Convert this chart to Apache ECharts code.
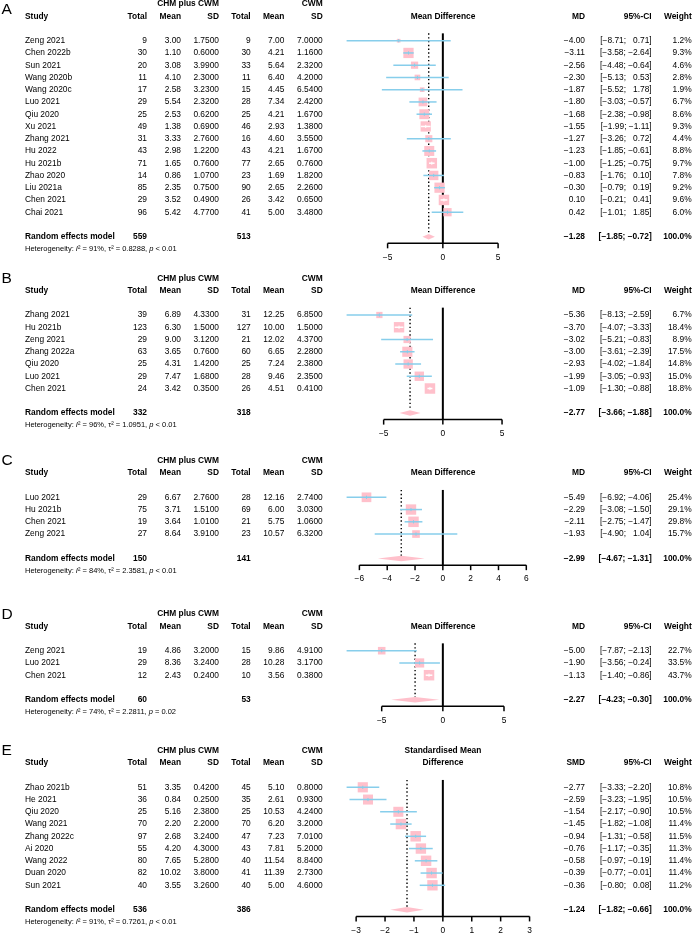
<!DOCTYPE html>
<html><head><meta charset="utf-8">
<script src="https://cdn.jsdelivr.net/npm/echarts@6/dist/echarts.min.js"></script>
<style>html,body{margin:0;padding:0;background:#fff}#c{width:693px;height:935px}</style>
</head><body><div id="c"></div>
<script>
// ---------- Panel A ----------
const A_study = ['Zeng 2021','Chen 2022b','Sun 2021','Wang 2020b','Wang 2020c','Luo 2021','Qiu 2020','Xu 2021','Zhang 2021','Hu 2022','Hu 2021b','Zhao 2020','Liu 2021a','Chen 2021','Chai 2021'];
const A_n1 = [9,30,20,11,17,29,25,49,31,43,71,14,85,29,96];
const A_m1 = [3.00,1.10,3.08,4.10,2.58,5.54,2.53,1.38,3.33,2.98,1.65,0.86,2.35,3.52,5.42];
const A_sd1 = [1.75,0.60,3.99,2.30,3.23,2.32,0.62,0.69,2.76,1.22,0.76,1.07,0.75,0.49,4.77];
const A_n2 = [9,30,33,11,15,28,25,46,16,43,77,23,90,26,41];
const A_m2 = [7.00,4.21,5.64,6.40,4.45,7.34,4.21,2.93,4.60,4.21,2.65,1.69,2.65,3.42,5.00];
const A_sd2 = [7.00,1.16,2.32,4.20,6.54,2.42,1.67,1.38,3.55,1.67,0.76,1.82,2.26,0.65,3.48];
const A_est = [-4.00,-3.11,-2.56,-2.30,-1.87,-1.80,-1.68,-1.55,-1.27,-1.23,-1.00,-0.83,-0.30,0.10,0.42];
const A_lo = [-8.71,-3.58,-4.48,-5.13,-5.52,-3.03,-2.38,-1.99,-3.26,-1.85,-1.25,-1.76,-0.79,-0.21,-1.01];
const A_hi = [0.71,-2.64,-0.64,0.53,1.78,-0.57,-0.98,-1.11,0.72,-0.61,-0.75,0.10,0.19,0.41,1.85];
const A_w = [1.2,9.3,4.6,2.8,1.9,6.7,8.6,9.3,4.4,8.8,9.7,7.8,9.2,9.6,6.0];
const A_total = [559, 513];
const A_sum = [-1.28, -1.85, -0.72];
const A_het = ['91%', '0.8288', '< 0.01'];
const A_ticks = [-5, 0, 5];

// ---------- Panel B ----------
const B_study = ['Zhang 2021','Hu 2021b','Zeng 2021','Zhang 2022a','Qiu 2020','Luo 2021','Chen 2021'];
const B_n1 = [39,123,29,63,25,29,24];
const B_m1 = [6.89,6.30,9.00,3.65,4.31,7.47,3.42];
const B_sd1 = [4.33,1.50,3.12,0.76,1.42,1.68,0.35];
const B_n2 = [31,127,21,60,25,28,26];
const B_m2 = [12.25,10.00,12.02,6.65,7.24,9.46,4.51];
const B_sd2 = [6.85,1.50,4.37,2.28,2.38,2.35,0.41];
const B_est = [-5.36,-3.70,-3.02,-3.00,-2.93,-1.99,-1.09];
const B_lo = [-8.13,-4.07,-5.21,-3.61,-4.02,-3.05,-1.30];
const B_hi = [-2.59,-3.33,-0.83,-2.39,-1.84,-0.93,-0.88];
const B_w = [6.7,18.4,8.9,17.5,14.8,15.0,18.8];
const B_total = [332, 318];
const B_sum = [-2.77, -3.66, -1.88];
const B_het = ['96%', '1.0951', '< 0.01'];
const B_ticks = [-5, 0, 5];

// ---------- Panel C ----------
const C_study = ['Luo 2021','Hu 2021b','Chen 2021','Zeng 2021'];
const C_n1 = [29,75,19,27];
const C_m1 = [6.67,3.71,3.64,8.64];
const C_sd1 = [2.76,1.51,1.01,3.91];
const C_n2 = [28,69,21,23];
const C_m2 = [12.16,6.00,5.75,10.57];
const C_sd2 = [2.74,3.03,1.06,6.32];
const C_est = [-5.49,-2.29,-2.11,-1.93];
const C_lo = [-6.92,-3.08,-2.75,-4.90];
const C_hi = [-4.06,-1.50,-1.47,1.04];
const C_w = [25.4,29.1,29.8,15.7];
const C_total = [150, 141];
const C_sum = [-2.99, -4.67, -1.31];
const C_het = ['84%', '2.3581', '< 0.01'];
const C_ticks = [-6, -4, -2, 0, 2, 4, 6];

// ---------- Panel D ----------
const D_study = ['Zeng 2021','Luo 2021','Chen 2021'];
const D_n1 = [19,29,12];
const D_m1 = [4.86,8.36,2.43];
const D_sd1 = [3.20,3.24,0.24];
const D_n2 = [15,28,10];
const D_m2 = [9.86,10.28,3.56];
const D_sd2 = [4.91,3.17,0.38];
const D_est = [-5.00,-1.90,-1.13];
const D_lo = [-7.87,-3.56,-1.40];
const D_hi = [-2.13,-0.24,-0.86];
const D_w = [22.7,33.5,43.7];
const D_total = [60, 53];
const D_sum = [-2.27, -4.23, -0.30];
const D_het = ['74%', '2.2811', '= 0.02'];
const D_ticks = [-5, 0, 5];

// ---------- Panel E ----------
const E_study = ['Zhao 2021b','He 2021','Qiu 2020','Wang 2021','Zhang 2022c','Ai 2020','Wang 2022','Duan 2020','Sun 2021'];
const E_n1 = [51,36,25,70,97,55,80,82,40];
const E_m1 = [3.35,0.84,5.16,2.20,2.68,4.20,7.65,10.02,3.55];
const E_sd1 = [0.42,0.25,2.38,2.20,3.24,4.30,5.28,3.80,3.26];
const E_n2 = [45,35,25,70,47,43,40,41,40];
const E_m2 = [5.10,2.61,10.53,6.20,7.23,7.81,11.54,11.39,5.00];
const E_sd2 = [0.80,0.93,4.24,3.20,7.01,5.20,8.84,2.73,4.60];
const E_est = [-2.77,-2.59,-1.54,-1.45,-0.94,-0.76,-0.58,-0.39,-0.36];
const E_lo = [-3.33,-3.23,-2.17,-1.82,-1.31,-1.17,-0.97,-0.77,-0.80];
const E_hi = [-2.20,-1.95,-0.90,-1.08,-0.58,-0.35,-0.19,-0.01,0.08];
const E_w = [10.8,10.5,10.5,11.4,11.5,11.3,11.4,11.4,11.2];
const E_total = [536, 386];
const E_sum = [-1.24, -1.82, -0.66];
const E_het = ['91%', '0.7261', '< 0.01'];
const E_ticks = [-3, -2, -1, 0, 1, 2, 3];

// ---------- styling / layout ----------
const FONT = '"Liberation Sans", Arial, Helvetica, sans-serif';
const FS = 8.4, FS_HET = 7.5, FS_LETTER = 15.5;
const SP = 12.25;
const X0 = 346.6, XW = 192.5;
const BOX_COLOR = '#FFC0CB', CI_COLOR = '#87CEEB';
const BOX_MAX = 10.5;
const COL = {study:25, n1:147, m1:181, sd1:219, n2:250.7, m2:284.3, sd2:322.7, mid:443, md:585, ci:651.7, w:691.7};

const panels = [
  {letter:'A', row0:40.7, letterY:9.5, title:['', 'Mean Difference'], eff:'MD', study:A_study, n1:A_n1, m1:A_m1, sd1:A_sd1, n2:A_n2, m2:A_m2, sd2:A_sd2, est:A_est, lo:A_lo, hi:A_hi, w:A_w, total:A_total, sum:A_sum, het:A_het, ticks:A_ticks},
  {letter:'B', row0:315, title:['', 'Mean Difference'], eff:'MD', study:B_study, n1:B_n1, m1:B_m1, sd1:B_sd1, n2:B_n2, m2:B_m2, sd2:B_sd2, est:B_est, lo:B_lo, hi:B_hi, w:B_w, total:B_total, sum:B_sum, het:B_het, ticks:B_ticks},
  {letter:'C', row0:497.3, title:['', 'Mean Difference'], eff:'MD', study:C_study, n1:C_n1, m1:C_m1, sd1:C_sd1, n2:C_n2, m2:C_m2, sd2:C_sd2, est:C_est, lo:C_lo, hi:C_hi, w:C_w, total:C_total, sum:C_sum, het:C_het, ticks:C_ticks},
  {letter:'D', row0:650.7, title:['', 'Mean Difference'], eff:'MD', study:D_study, n1:D_n1, m1:D_m1, sd1:D_sd1, n2:D_n2, m2:D_m2, sd2:D_sd2, est:D_est, lo:D_lo, hi:D_hi, w:D_w, total:D_total, sum:D_sum, het:D_het, ticks:D_ticks},
  {letter:'E', row0:787.3, title:['Standardised Mean', 'Difference'], eff:'SMD', study:E_study, n1:E_n1, m1:E_m1, sd1:E_sd1, n2:E_n2, m2:E_m2, sd2:E_sd2, est:E_est, lo:E_lo, hi:E_hi, w:E_w, total:E_total, sum:E_sum, het:E_het, ticks:E_ticks}
];

const MINUS = '\u2212';
const fnum = (v, d) => (v < 0 ? MINUS : '') + Math.abs(v).toFixed(d);
const fpad = (v, d) => (v < 0 ? MINUS : '\u2007') + Math.abs(v).toFixed(d);
const fci = (lo, hi) => '[' + fpad(lo, 2) + '; ' + fpad(hi, 2) + ']';
const ftick = v => (v < 0 ? MINUS : '') + Math.abs(v);

function txt(s, x, y, align, opt) {
  opt = opt || {};
  return {type:'text', silent:true, style:{text:s, x:x, y:y, align:align || 'left', verticalAlign:'middle',
    fontFamily:FONT, fontSize:opt.size || FS, fontWeight:opt.bold ? 'bold' : 'normal', fill:'#000'}};
}

const grids = [], xAxes = [], yAxes = [], series = [];

panels.forEach((P, k) => {
  const n = P.study.length, R = n + 1;
  const axisRow = R + 0.54;
  const ymin = -3.6, ymax = axisRow + 1.8;
  const xlim = Math.max(...P.lo.map(Math.abs), ...P.hi.map(Math.abs));
  const wmax = Math.max(...P.w);
  grids.push({left:X0, width:XW, top:P.row0 + ymin * SP, height:(ymax - ymin) * SP, containLabel:false, outerBoundsMode:'none'});
  xAxes.push({type:'value', gridIndex:k, min:-xlim, max:xlim, show:false});
  yAxes.push({type:'value', gridIndex:k, min:ymin, max:ymax, inverse:true, show:false});
  const base = {type:'custom', coordinateSystem:'cartesian2d', xAxisIndex:k, yAxisIndex:k, clip:false, silent:true, animation:false};

  // reference lines + axis line
  series.push(Object.assign({}, base, {
    data:[[0, 0]],
    renderItem:(params, api) => {
      const top = api.coord([0, -0.6])[1];
      const ax = api.coord([0, axisRow]);
      const dm = api.coord([P.sum[0], R]);
      const t0 = api.coord([P.ticks[0], axisRow]), t1 = api.coord([P.ticks[P.ticks.length - 1], axisRow]);
      return {type:'group', children:[
        {type:'line', shape:{x1:dm[0], y1:top, x2:dm[0], y2:dm[1] - 2.8}, style:{stroke:'#000', lineWidth:1.4, lineDash:[1.4, 2.4]}},
        {type:'line', shape:{x1:ax[0], y1:top, x2:ax[0], y2:ax[1]}, style:{stroke:'#000', lineWidth:2}},
        {type:'line', shape:{x1:t0[0], y1:ax[1], x2:t1[0], y2:ax[1]}, style:{stroke:'#000', lineWidth:1.5}}
      ]};
    }
  }));

  // axis ticks + labels
  series.push(Object.assign({}, base, {
    data:P.ticks.map(v => [v, axisRow]),
    renderItem:(params, api) => {
      const p = api.coord([api.value(0), api.value(1)]);
      return {type:'group', children:[
        {type:'line', shape:{x1:p[0], y1:p[1], x2:p[0], y2:p[1] + 5}, style:{stroke:'#000', lineWidth:1.5}},
        txt(ftick(api.value(0)), p[0], p[1] + 14, 'center')
      ]};
    }
  }));

  // study squares and CI lines
  series.push(Object.assign({}, base, {
    data:P.est.map((e, i) => [e, i, P.lo[i], P.hi[i], P.w[i]]),
    renderItem:(params, api) => {
      const r = api.value(1);
      const c = api.coord([api.value(0), r]);
      const pl = api.coord([api.value(2), r]), ph = api.coord([api.value(3), r]);
      const side = BOX_MAX * Math.sqrt(api.value(4) / wmax);
      const inside = pl[0] >= c[0] - side / 2 && ph[0] <= c[0] + side / 2;
      const lc = inside ? '#fff' : CI_COLOR;
      return {type:'group', children:[
        {type:'rect', shape:{x:c[0] - side / 2, y:c[1] - side / 2, width:side, height:side}, style:{fill:BOX_COLOR}},
        {type:'line', shape:{x1:pl[0], y1:c[1], x2:ph[0], y2:c[1]}, style:{stroke:lc, lineWidth:1.5}},
        {type:'line', shape:{x1:c[0], y1:c[1] - 1.6, x2:c[0], y2:c[1] + 1.6}, style:{stroke:lc, lineWidth:1}}
      ]};
    }
  }));

  // summary diamond and summary / heterogeneity text
  series.push(Object.assign({}, base, {
    data:[[P.sum[0], R, P.sum[1], P.sum[2]]],
    renderItem:(params, api) => {
      const pm = api.coord([api.value(0), R]);
      const pl = api.coord([api.value(2), R]), ph = api.coord([api.value(3), R]);
      const yH = api.coord([0, R + 1])[1];
      const y = pm[1], hh = 2.8;
      const B = {bold:true};
      return {type:'group', children:[
        {type:'polygon', shape:{points:[[pl[0], y], [pm[0], y - hh], [ph[0], y], [pm[0], y + hh]]}, style:{fill:BOX_COLOR}},
        txt('Random effects model', COL.study, y, 'left', B),
        txt(String(P.total[0]), COL.n1, y, 'right', B),
        txt(String(P.total[1]), COL.n2, y, 'right', B),
        txt(fnum(P.sum[0], 2), COL.md, y, 'right', B),
        txt(fci(P.sum[1], P.sum[2]), COL.ci, y, 'right', B),
        txt('100.0%', COL.w, y, 'right', B),
        {type:'text', silent:true, style:{
          text:'{n|Heterogeneity: }{i|I}{n|\u00B2 = ' + P.het[0] + ', \u03C4\u00B2 = ' + P.het[1] + ', }{i|p}{n| ' + P.het[2] + '}',
          x:COL.study, y:yH, align:'left', verticalAlign:'middle', fill:'#000',
          rich:{n:{fontFamily:FONT, fontSize:FS_HET, fill:'#000'}, i:{fontFamily:FONT, fontSize:FS_HET, fontStyle:'italic', fill:'#000'}}
        }}
      ]};
    }
  }));

  // table text per study
  series.push(Object.assign({}, base, {
    data:P.study.map((s, i) => [0, i]),
    renderItem:(params, api) => {
      const i = params.dataIndex;
      const y = api.coord([0, i])[1];
      return {type:'group', children:[
        txt(P.study[i], COL.study, y, 'left'),
        txt(String(P.n1[i]), COL.n1, y, 'right'),
        txt(P.m1[i].toFixed(2), COL.m1, y, 'right'),
        txt(P.sd1[i].toFixed(4), COL.sd1, y, 'right'),
        txt(String(P.n2[i]), COL.n2, y, 'right'),
        txt(P.m2[i].toFixed(2), COL.m2, y, 'right'),
        txt(P.sd2[i].toFixed(4), COL.sd2, y, 'right'),
        txt(fnum(P.est[i], 2), COL.md, y, 'right'),
        txt(fci(P.lo[i], P.hi[i]), COL.ci, y, 'right'),
        txt(P.w[i].toFixed(1) + '%', COL.w, y, 'right')
      ]};
    }
  }));

  // headers + panel letter
  series.push(Object.assign({}, base, {
    data:[[0, -3]],
    renderItem:(params, api) => {
      const y1 = api.coord([0, -3])[1], y2 = api.coord([0, -2])[1];
      const B = {bold:true};
      const ch = [
        {type:'text', silent:true, style:{text:P.letter, x:1.5, y:(P.letterY !== undefined ? P.letterY : y1 + 0.5), align:'left', verticalAlign:'middle', fontFamily:FONT, fontSize:FS_LETTER, fill:'#000'}},
        txt('CHM plus CWM', COL.sd1, y1, 'right', B),
        txt('CWM', COL.sd2, y1, 'right', B),
        txt('Study', COL.study, y2, 'left', B),
        txt('Total', COL.n1, y2, 'right', B),
        txt('Mean', COL.m1, y2, 'right', B),
        txt('SD', COL.sd1, y2, 'right', B),
        txt('Total', COL.n2, y2, 'right', B),
        txt('Mean', COL.m2, y2, 'right', B),
        txt('SD', COL.sd2, y2, 'right', B),
        txt(P.title[1], COL.mid, y2, 'center', B),
        txt(P.eff, COL.md, y2, 'right', B),
        txt('95%-CI', COL.ci, y2, 'right', B),
        txt('Weight', COL.w, y2, 'right', B)
      ];
      if (P.title[0]) ch.push(txt(P.title[0], COL.mid, y1, 'center', B));
      return {type:'group', children:ch};
    }
  }));
});

const chart = echarts.init(document.getElementById('c'), null, {renderer:'canvas'});
chart.setOption({
  backgroundColor:'#fff',
  animation:false,
  grid:grids,
  xAxis:xAxes,
  yAxis:yAxes,
  series:series
});
</script>
</body></html>
